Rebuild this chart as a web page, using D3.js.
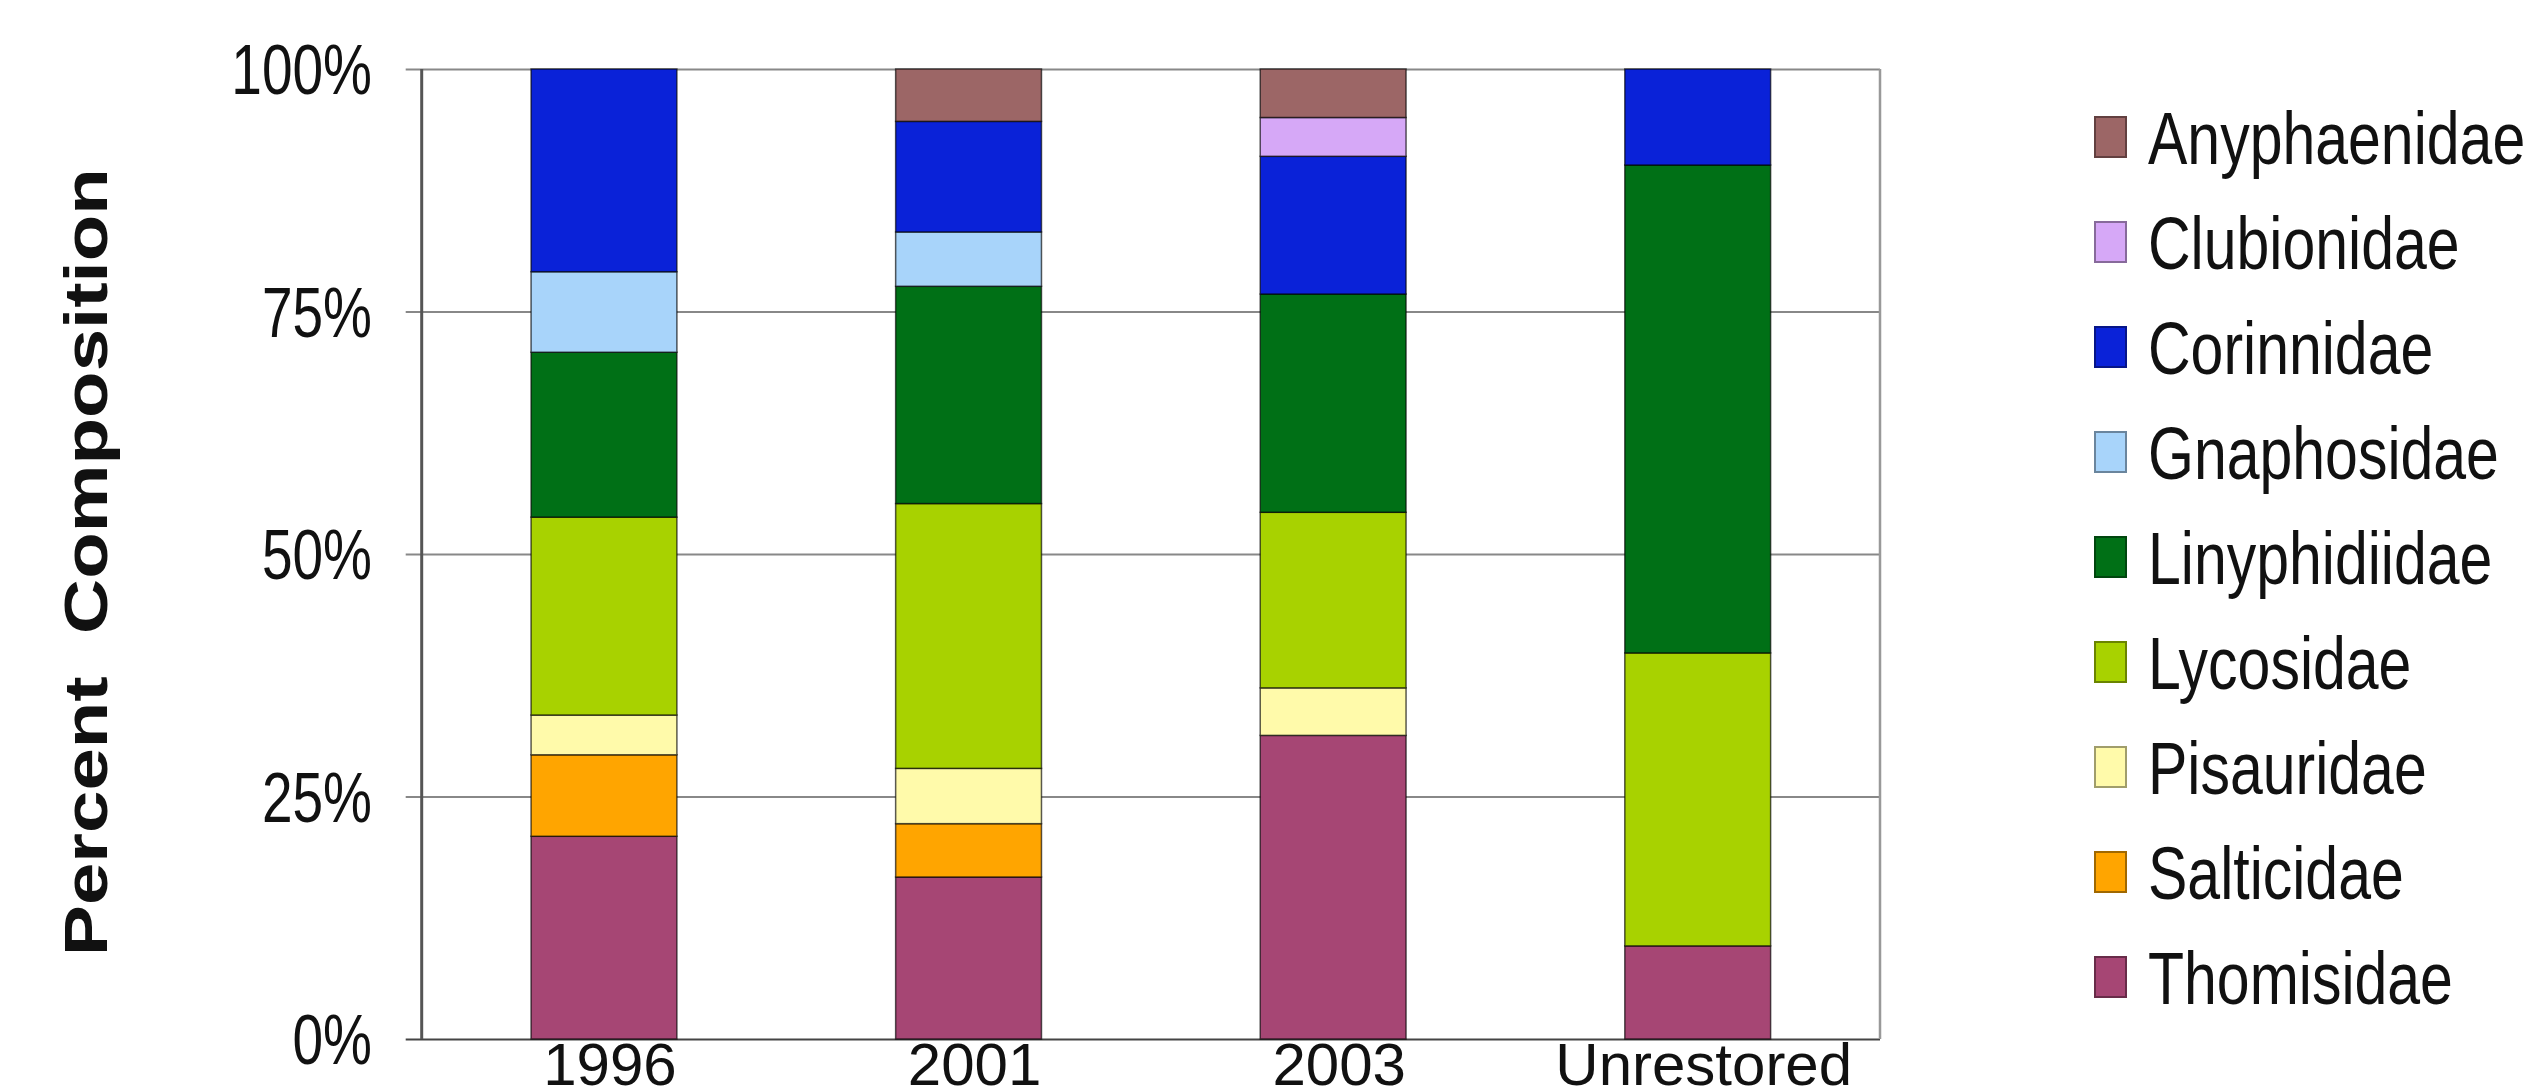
<!DOCTYPE html>
<html>
<head>
<meta charset="utf-8">
<script src="https://cdn.jsdelivr.net/npm/d3@7"></script>
<style>
  body { margin: 0; background: #fff; }
  text { font-family: "Liberation Sans", Arial, sans-serif; fill: #111; }
</style>
</head>
<body>
<svg id="chart"></svg>
<script>
// data (percent of each site's catch)
let sites = ['1996', '2001', '2003', 'Unrestored'];
let families = ['Thomisidae', 'Salticidae', 'Pisauridae', 'Lycosidae', 'Linyphidiidae',
  'Gnaphosidae', 'Corinnidae', 'Clubionidae', 'Anyphaenidae'];
let thomisidae   = [20.9, 16.7, 31.3,  9.6];
let salticidae   = [ 8.4,  5.5,  0,    0  ];
let pisauridae   = [ 4.1,  5.7,  4.9,  0  ];
let lycosidae    = [20.4, 27.3, 18.1, 30.2];
let linyphiidae  = [17.0, 22.4, 22.5, 50.3];
let gnaphosidae  = [ 8.3,  5.6,  0,    0  ];
let corinnidae   = [20.9, 11.4, 14.2,  9.9];
let clubionidae  = [ 0,    0,    4.0,  0  ];
let anyphaenidae = [ 0,    5.4,  5.0,  0  ];
let yTicks = [0, 25, 50, 75, 100];
let colors = ['#a64674', '#ffa500', '#fffaaa', '#a8d200', '#007016',
  '#a8d4fa', '#0a22d8', '#d6a8f7', '#9c6666'];

let seriesValues = [thomisidae, salticidae, pisauridae, lycosidae, linyphiidae,
  gnaphosidae, corinnidae, clubionidae, anyphaenidae];

let rows = sites.map(function(s, i) {
  let row = { site: s };
  families.forEach((f, j) => row[f] = seriesValues[j][i]);
  return row;
});

let config = {
  svg: { width: 2532, height: 1088 },
  plot: { left: 421.7, right: 1880, top: 69, bottom: 1039 },
  legend: { x: 2095, y: 137, step: 105 },
  stretch: 1.27
};

let svg = d3.select('svg#chart')
  .attr('width', config.svg.width)
  .attr('height', config.svg.height);

let scale = {};
scale.x = d3.scaleBand()
  .domain(sites)
  .range([config.plot.left, config.plot.right])
  .paddingInner(0.6)
  .paddingOuter(0.3);
scale.y = d3.scaleLinear()
  .domain([0, 100])
  .range([config.plot.bottom, config.plot.top]);
scale.color = d3.scaleOrdinal().domain(families).range(colors);

// grid lines, starting 16px left of the axis (they double as ticks)
let grid = d3.axisLeft(scale.y)
  .tickValues(yTicks)
  .tickSize(-(config.plot.right - config.plot.left) - 16)
  .tickFormat('');

svg.append('g')
  .attr('id', 'grid')
  .attr('transform', translate(config.plot.left - 16, 0))
  .call(grid)
  .call(g => g.select('.domain').remove())
  .call(g => g.selectAll('line')
    .attr('stroke', d => d === 0 ? '#444' : '#888')
    .attr('stroke-width', 2));

// frame sides
svg.append('line')
  .attr('x1', config.plot.right).attr('x2', config.plot.right)
  .attr('y1', config.plot.top).attr('y2', config.plot.bottom)
  .attr('stroke', '#999').attr('stroke-width', 2.5);
svg.append('line')
  .attr('x1', config.plot.left).attr('x2', config.plot.left)
  .attr('y1', config.plot.top).attr('y2', config.plot.bottom)
  .attr('stroke', '#555').attr('stroke-width', 3);

// tick labels
svg.append('g')
  .attr('id', 'y-labels')
  .selectAll('text')
  .data(yTicks)
  .enter()
  .append('text')
  .attr('transform', d => translate(372, scale.y(d) + 25) + ' scale(1,' + config.stretch + ')')
  .attr('text-anchor', 'end')
  .attr('font-size', '55px')
  .text(d => d + '%');

// stacked bars
let stack = d3.stack().keys(families)(rows);

let layers = svg.append('g')
  .attr('id', 'bars')
  .selectAll('g')
  .data(stack)
  .enter()
  .append('g')
  .attr('fill', d => scale.color(d.key));

layers.selectAll('rect')
  .data(d => d.filter(p => p[1] - p[0] > 0))
  .enter()
  .append('rect')
  .attr('x', d => scale.x(d.data.site))
  .attr('y', d => scale.y(d[1]))
  .attr('width', scale.x.bandwidth())
  .attr('height', d => scale.y(d[0]) - scale.y(d[1]))
  .attr('stroke', 'rgba(0,0,0,0.65)')
  .attr('stroke-width', 1.5);

// category labels, tight against the bottom edge
svg.append('g')
  .attr('id', 'x-labels')
  .selectAll('text')
  .data(sites)
  .enter()
  .append('text')
  .attr('x', d => scale.x(d) + scale.x.bandwidth() / 2 + 6)
  .attr('y', 1085)
  .attr('text-anchor', 'middle')
  .attr('font-size', '60px')
  .text(d => d);

// axis title
svg.append('text')
  .attr('transform', translate(107, 562) + ' rotate(-90) scale(1.25,1)')
  .attr('text-anchor', 'middle')
  .attr('font-size', '61px')
  .attr('font-weight', 'bold')
  .style('white-space', 'pre')
  .text('Percent  Composition');

drawLegend();

function drawLegend() {
  let legend = svg.append('g')
    .attr('id', 'legend')
    .attr('transform', translate(config.legend.x, config.legend.y));

  let items = legend.selectAll('g')
    .data(families.slice().reverse())
    .enter()
    .append('g')
    .attr('transform', (d, i) => translate(0, i * config.legend.step));

  items.append('rect')
    .attr('x', 0)
    .attr('y', -20)
    .attr('width', 31)
    .attr('height', 40)
    .attr('fill', d => scale.color(d))
    .attr('stroke', d => d3.color(scale.color(d)).darker(1.3))
    .attr('stroke-width', 2);

  items.append('text')
    .attr('transform', translate(53, 27) + ' scale(1,' + config.stretch + ')')
    .attr('font-size', '59px')
    .text(d => d);
}

function translate(x, y) {
  return 'translate(' + x + ',' + y + ')';
}
</script>
</body>
</html>
